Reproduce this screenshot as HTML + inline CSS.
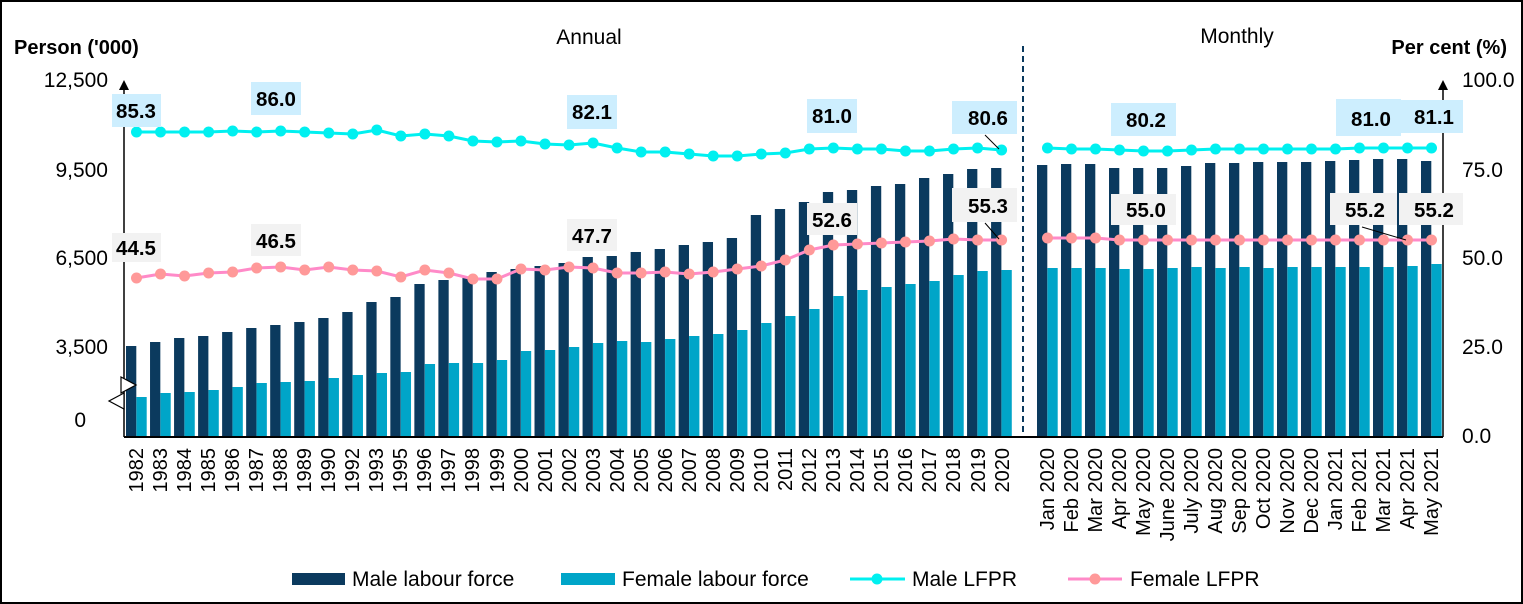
<!DOCTYPE html>
<html><head><meta charset="utf-8"><style>
html,body{margin:0;padding:0;background:#fff}
svg{display:block}
text{font-family:"Liberation Sans",Arial,sans-serif;fill:#000}
.t{font-size:21px}
.tt{font-size:20px}
.b{font-weight:bold}
.xl{font-size:20px}
.lb{font-size:20.5px;font-weight:bold}
.lg{font-size:21px}
</style></head><body>
<svg id="s" width="1523" height="604" viewBox="0 0 1523 604" xmlns="http://www.w3.org/2000/svg">
<rect x="1" y="1" width="1521" height="602" fill="#fff" stroke="#000" stroke-width="2"/>
<g id="bars"></g>
<line x1="124" y1="437" x2="1443" y2="437" stroke="#000" stroke-width="2"/>
<line x1="124" y1="88" x2="124" y2="437" stroke="#000" stroke-width="1.5"/>
<polygon points="119,90 129,90 124,80" fill="#000"/>
<line x1="1443" y1="88" x2="1443" y2="437" stroke="#000" stroke-width="1.5"/>
<polygon points="1438,90 1448,90 1443,80" fill="#000"/>
<polygon points="121,377 136,385 121,393" fill="#fff" stroke="#000" stroke-width="1.2"/>
<polygon points="124,393 109,401 124,409" fill="#fff" stroke="#000" stroke-width="1.2"/>
<line x1="1023" y1="46" x2="1023" y2="436" stroke="#0b3a5e" stroke-width="2" stroke-dasharray="6,4"/>
<g id="lines"></g>
<g>
<rect x="112" y="94" width="49" height="33" fill="#cdeefe"/><text x="136" y="118" class="lb" text-anchor="middle">85.3</text>
<rect x="251" y="82" width="50" height="33" fill="#cdeefe"/><text x="276" y="106" class="lb" text-anchor="middle">86.0</text>
<rect x="567" y="95" width="50" height="34" fill="#cdeefe"/><text x="592" y="119" class="lb" text-anchor="middle">82.1</text>
<rect x="807" y="99" width="50" height="34" fill="#cdeefe"/><text x="832" y="123" class="lb" text-anchor="middle">81.0</text>
<rect x="952" y="101" width="65" height="33" fill="#cdeefe"/><text x="988" y="125" class="lb" text-anchor="middle">80.6</text>
<rect x="1111" y="103" width="65" height="33" fill="#cdeefe"/><text x="1146" y="127" class="lb" text-anchor="middle">80.2</text>
<rect x="1336" y="99" width="65" height="37" fill="#cdeefe"/><text x="1371" y="126" class="lb" text-anchor="middle">81.0</text>
<rect x="1399" y="100" width="64" height="33" fill="#cdeefe"/><text x="1434" y="124" class="lb" text-anchor="middle">81.1</text>
<rect x="112" y="233" width="49" height="29" fill="#f2f2f2"/><text x="136" y="255" class="lb" text-anchor="middle">44.5</text>
<rect x="251" y="224" width="50" height="32" fill="#f2f2f2"/><text x="276" y="248" class="lb" text-anchor="middle">46.5</text>
<rect x="567" y="219" width="50" height="32" fill="#f2f2f2"/><text x="592" y="243" class="lb" text-anchor="middle">47.7</text>
<rect x="807" y="203" width="50" height="32" fill="#f2f2f2"/><text x="832" y="227" class="lb" text-anchor="middle">52.6</text>
<rect x="952" y="188" width="65" height="34" fill="#f2f2f2"/><text x="988" y="213" class="lb" text-anchor="middle">55.3</text>
<rect x="1111" y="194" width="65" height="31" fill="#f2f2f2"/><text x="1146" y="217" class="lb" text-anchor="middle">55.0</text>
<rect x="1330" y="193" width="67" height="32" fill="#f2f2f2"/><text x="1365" y="217" class="lb" text-anchor="middle">55.2</text>
<rect x="1399" y="193" width="64" height="32" fill="#f2f2f2"/><text x="1434" y="217" class="lb" text-anchor="middle">55.2</text>
<line x1="985" y1="135" x2="999" y2="149" stroke="#000" stroke-width="1"/>
<line x1="985" y1="223" x2="999" y2="239" stroke="#000" stroke-width="1"/>
<line x1="1362" y1="227" x2="1406" y2="240" stroke="#000" stroke-width="1"/>
</g>
<text x="14" y="54" class="tt b">Person ('000)</text>
<text x="589" y="44" class="t" text-anchor="middle">Annual</text>
<text x="1237" y="43" class="t" text-anchor="middle">Monthly</text>
<text x="1507" y="54" class="tt b" text-anchor="end">Per cent (%)</text>
<g class="t" text-anchor="end">
<text x="108" y="87">12,500</text><text x="108" y="177">9,500</text><text x="108" y="265">6,500</text><text x="108" y="354">3,500</text><text x="86" y="427">0</text>
</g>
<g class="t">
<text x="1462" y="87">100.0</text><text x="1462" y="177">75.0</text><text x="1462" y="265">50.0</text><text x="1462" y="354">25.0</text><text x="1462" y="443">0.0</text>
</g>
<g class="xl" text-anchor="end">
<text transform="translate(143,448) rotate(-90)">1982</text>
<text transform="translate(167,448) rotate(-90)">1983</text>
<text transform="translate(191,448) rotate(-90)">1984</text>
<text transform="translate(215,448) rotate(-90)">1985</text>
<text transform="translate(239,448) rotate(-90)">1986</text>
<text transform="translate(263,448) rotate(-90)">1987</text>
<text transform="translate(287,448) rotate(-90)">1988</text>
<text transform="translate(311,448) rotate(-90)">1989</text>
<text transform="translate(335,448) rotate(-90)">1990</text>
<text transform="translate(359,448) rotate(-90)">1992</text>
<text transform="translate(383,448) rotate(-90)">1993</text>
<text transform="translate(407,448) rotate(-90)">1995</text>
<text transform="translate(431,448) rotate(-90)">1996</text>
<text transform="translate(455,448) rotate(-90)">1997</text>
<text transform="translate(479,448) rotate(-90)">1998</text>
<text transform="translate(504,448) rotate(-90)">1999</text>
<text transform="translate(528,448) rotate(-90)">2000</text>
<text transform="translate(552,448) rotate(-90)">2001</text>
<text transform="translate(576,448) rotate(-90)">2002</text>
<text transform="translate(600,448) rotate(-90)">2003</text>
<text transform="translate(624,448) rotate(-90)">2004</text>
<text transform="translate(648,448) rotate(-90)">2005</text>
<text transform="translate(672,448) rotate(-90)">2006</text>
<text transform="translate(696,448) rotate(-90)">2007</text>
<text transform="translate(720,448) rotate(-90)">2008</text>
<text transform="translate(744,448) rotate(-90)">2009</text>
<text transform="translate(768,448) rotate(-90)">2010</text>
<text transform="translate(792,448) rotate(-90)">2011</text>
<text transform="translate(816,448) rotate(-90)">2012</text>
<text transform="translate(840,448) rotate(-90)">2013</text>
<text transform="translate(864,448) rotate(-90)">2014</text>
<text transform="translate(888,448) rotate(-90)">2015</text>
<text transform="translate(912,448) rotate(-90)">2016</text>
<text transform="translate(936,448) rotate(-90)">2017</text>
<text transform="translate(960,448) rotate(-90)">2018</text>
<text transform="translate(985,448) rotate(-90)">2019</text>
<text transform="translate(1009,448) rotate(-90)">2020</text>
<text transform="translate(1054,448) rotate(-90)">Jan 2020</text>
<text transform="translate(1078,448) rotate(-90)">Feb 2020</text>
<text transform="translate(1102,448) rotate(-90)">Mar 2020</text>
<text transform="translate(1126,448) rotate(-90)">Apr 2020</text>
<text transform="translate(1150,448) rotate(-90)">May 2020</text>
<text transform="translate(1174,448) rotate(-90)">June 2020</text>
<text transform="translate(1198,448) rotate(-90)">July 2020</text>
<text transform="translate(1222,448) rotate(-90)">Aug 2020</text>
<text transform="translate(1246,448) rotate(-90)">Sep 2020</text>
<text transform="translate(1270,448) rotate(-90)">Oct 2020</text>
<text transform="translate(1294,448) rotate(-90)">Nov 2020</text>
<text transform="translate(1318,448) rotate(-90)">Dec 2020</text>
<text transform="translate(1342,448) rotate(-90)">Jan 2021</text>
<text transform="translate(1366,448) rotate(-90)">Feb 2021</text>
<text transform="translate(1390,448) rotate(-90)">Mar 2021</text>
<text transform="translate(1414,448) rotate(-90)">Apr 2021</text>
<text transform="translate(1438,448) rotate(-90)">May 2021</text>
</g>
<rect x="292" y="573" width="53" height="12" fill="#0b3a5e"/><text x="352" y="586" class="lg">Male labour force</text>
<rect x="561" y="573" width="54" height="12" fill="#00a5c8"/><text x="622" y="586" class="lg">Female labour force</text>
<line x1="850" y1="579" x2="905" y2="579" stroke="#00f0f0" stroke-width="3"/><circle cx="877" cy="579" r="5.5" fill="#00f0f0"/><text x="912" y="586" class="lg">Male LFPR</text>
<line x1="1068" y1="579" x2="1122" y2="579" stroke="#ff8ac8" stroke-width="3"/><circle cx="1095" cy="579" r="5.5" fill="#f99"/><text x="1130" y="586" class="lg">Female LFPR</text>
</svg>
<script>
var NS="http://www.w3.org/2000/svg";
function el(p,t,a){var e=document.createElementNS(NS,t);for(var k in a)e.setAttribute(k,a[k]);p.appendChild(e);return e;}
var ax=[],mx=[];for(var i=0;i<37;i++)ax.push(136.5+i*24.03);for(var j=0;j<17;j++)mx.push(1047.5+j*24);
var mA=[346,342,338,336,332,328,325,322,318,312,302,297,284,280,277,272,269,266,263,257,256,252,249,245,242,238,215,209,202,192,190,186,184,178,174,169,168];
var fA=[397,393,392,390,387,383,382,381,378,375,373,372,364,363,363,360,351,350,347,343,341,342,339,336,334,330,323,316,309,296,290,287,284,281,275,271,270];
var mdA=[132,132,132,132,131,132,131,132,133,134,130,136,134,136,141,142,141,144,145,143,148,152,152,154,156,156,154,153,149,148,149,149,151,151,149,148,150];
var fdA=[278,274,276,273,272,268,267,270,267,270,271,277,270,273,279,279,269,270,267,268,273,273,272,274,272,269,266,260,250,245,244,243,242,241,239,240,240];
var mM=[165,164,164,168,168,168,166,163,163,162,162,162,161,160,159,159,161];
var fM=[268,268,268,269,269,268,267,268,267,268,267,267,267,267,267,266,264];
var mdM=[148,149,149,150,151,151,150,149,149,149,149,149,149,148,148,148,148];
var fdM=[238,238,238,240,240,240,240,240,240,240,240,240,240,240,240,240,240];
var g=document.getElementById("bars"),L=document.getElementById("lines");
function bars(xs,m,f){for(var i=0;i<xs.length;i++){el(g,"rect",{x:xs[i]-10.5,y:m[i],width:10.3,height:437-m[i],fill:"#0b3a5e"});el(g,"rect",{x:xs[i]-0.1,y:f[i],width:10.3,height:437-f[i],fill:"#00a5c8"});}}
bars(ax,mA,fA);bars(mx,mM,fM);
function line(xs,ys,lc,dc){var p=xs.map(function(x,i){return x+","+ys[i]}).join(" ");el(L,"polyline",{points:p,fill:"none",stroke:lc,"stroke-width":3});for(var i=0;i<xs.length;i++)el(L,"circle",{cx:xs[i],cy:ys[i],r:5.5,fill:dc});}
line(ax,mdA,"#00f0f0","#00f0f0");line(ax,fdA,"#ff8ac8","#f99");line(mx,mdM,"#00f0f0","#00f0f0");line(mx,fdM,"#ff8ac8","#f99");
</script>
</body></html>
